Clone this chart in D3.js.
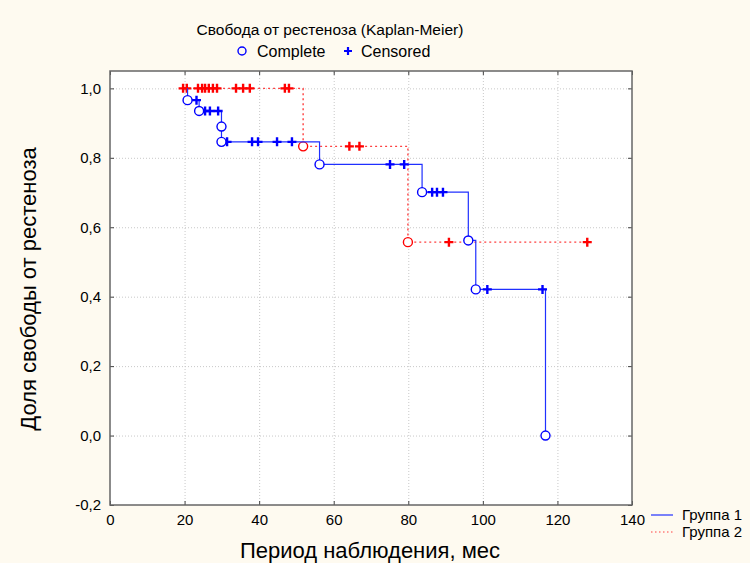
<!DOCTYPE html>
<html>
<head>
<meta charset="utf-8">
<script src="https://cdn.jsdelivr.net/npm/d3@7"></script>
<style>
  body { margin: 0; background: #fefaf0; }
  svg { display: block; font-family: 'Liberation Sans', Arial, sans-serif; }
  .grid line { stroke: #c8c8c8; stroke-dasharray: 1,2; }
  .grid path { display: none; }
  .ticks path { display: none; }
  .ticks line { stroke: #444; }
  .ticks text { font-size: 15px; fill: #000; font-family: 'Liberation Sans', Arial, sans-serif; }
</style>
</head>
<body>
<div id="chart"></div>
<script>
'use strict';

// Group 1 (blue) - events and censored times
var g1EventTimes = [20.8, 23.9, 29.9, 29.9, 56.2, 83.7, 96.1, 98.1, 116.8];
var g1EventSurv  = [0.966, 0.935, 0.890, 0.846, 0.781, 0.701, 0.562, 0.421, 0.0];
var g1Censored   = [23.2, 25.5, 26.8, 29.0, 31.4, 38.1, 39.7, 44.8, 48.8, 75.1, 78.9, 86.4, 87.7, 89.3, 101.2, 116.0];

// Group 2 (red)
var g2EventTimes = [51.8, 79.9];
var g2EventSurv  = [0.833, 0.557];
var g2Censored   = [19.6, 20.6, 23.6, 24.7, 25.5, 26.5, 27.6, 28.7, 33.8, 35.7, 37.5, 46.9, 48.0, 64.2, 66.9, 90.9, 128.0];

var xTicks = [0, 20, 40, 60, 80, 100, 120, 140];
var yTicks = [-0.2, 0, 0.2, 0.4, 0.6, 0.8, 1.0];

var graph = { width: 750, height: 563, left: 110, right: 632, top: 71, bottom: 505 };

var x = d3.scaleLinear().domain([0, 140]).range([graph.left, graph.right]);
var y = d3.scaleLinear().domain([-0.2, 1.05]).range([graph.bottom, graph.top]);

var svg = d3.select('#chart').append('svg')
  .attr('width', graph.width)
  .attr('height', graph.height);

// plot area
svg.append('rect')
  .attr('x', graph.left).attr('y', graph.top)
  .attr('width', graph.right - graph.left).attr('height', graph.bottom - graph.top)
  .attr('fill', '#fff');

// gridlines
svg.append('g').attr('class', 'grid')
  .attr('transform', 'translate(0,' + graph.bottom + ')')
  .call(d3.axisBottom(x).tickValues(xTicks.slice(1, -1)).tickSize(-(graph.bottom - graph.top)).tickFormat(''));
svg.append('g').attr('class', 'grid')
  .attr('transform', 'translate(' + graph.left + ',0)')
  .call(d3.axisLeft(y).tickValues(yTicks.slice(1)).tickSize(-(graph.right - graph.left)).tickFormat(''));

var fmt = function(d) { return d3.format('.1f')(d).replace('.', ',').replace('−', '-'); };

// axes with inward ticks
svg.append('g').attr('class', 'ticks')
  .attr('transform', 'translate(0,' + graph.bottom + ')')
  .call(d3.axisBottom(x).tickValues(xTicks).tickSizeInner(-4).tickSizeOuter(0).tickPadding(9).tickFormat(d3.format('d')));
svg.append('g').attr('class', 'ticks')
  .attr('transform', 'translate(0,' + graph.top + ')')
  .call(d3.axisTop(x).tickValues(xTicks).tickSizeInner(-4).tickSizeOuter(0).tickFormat(''));
svg.append('g').attr('class', 'ticks')
  .attr('transform', 'translate(' + graph.left + ',0)')
  .call(d3.axisLeft(y).tickValues(yTicks).tickSizeInner(-4).tickSizeOuter(0).tickPadding(9).tickFormat(fmt));
svg.append('g').attr('class', 'ticks')
  .attr('transform', 'translate(' + graph.right + ',0)')
  .call(d3.axisRight(y).tickValues(yTicks).tickSizeInner(-4).tickSizeOuter(0).tickFormat(''));

// frame
svg.append('rect')
  .attr('x', graph.left).attr('y', graph.top)
  .attr('width', graph.right - graph.left).attr('height', graph.bottom - graph.top)
  .attr('fill', 'none').attr('stroke', '#666').attr('stroke-width', 1.5);

function survAt(times, surv, t) {
  var s = 1;
  for (var i = 0; i < times.length; i++) {
    if (times[i] <= t) s = surv[i];
  }
  return s;
}

function stepPoints(times, surv, censored) {
  var start = Math.min(times[0], d3.min(censored));
  var pts = [[start, 1]];
  times.forEach(function(t, i) { pts.push([t, surv[i]]); });
  var end = d3.max(censored);
  if (end > times[times.length - 1]) pts.push([end, surv[surv.length - 1]]);
  return pts;
}

var stepLine = d3.line()
  .x(function(d) { return x(d[0]); })
  .y(function(d) { return y(d[1]); })
  .curve(d3.curveStepAfter);

var groups = [
  { times: g2EventTimes, surv: g2EventSurv, cens: g2Censored, color: '#ff0000', line: '#ff4040', dash: '2,3', width: 1.4 },
  { times: g1EventTimes, surv: g1EventSurv, cens: g1Censored, color: '#0000ff', line: '#2030ff', dash: null, width: 1.2 }
];

function plus(sel, size) {
  sel.append('path')
    .attr('d', 'M' + (-size) + ',0H' + size + 'M0,' + (-size) + 'V' + size);
}

groups.forEach(function(g) {
  var chartG = svg.append('g');
  chartG.append('path')
    .attr('d', stepLine(stepPoints(g.times, g.surv, g.cens)))
    .attr('fill', 'none')
    .attr('stroke', g.line)
    .attr('stroke-width', g.width)
    .attr('stroke-dasharray', g.dash);

  chartG.selectAll('.cens')
    .data(g.cens)
    .enter().append('g')
    .attr('class', 'cens')
    .attr('transform', function(d) {
      return 'translate(' + x(d) + ',' + y(survAt(g.times, g.surv, d)) + ')';
    })
    .attr('stroke', g.color)
    .attr('stroke-width', 2.4)
    .call(plus, 4.5);

  chartG.selectAll('.dot')
    .data(g.times)
    .enter().append('circle')
    .attr('class', 'dot')
    .attr('r', 4.5)
    .attr('cx', function(d) { return x(d); })
    .attr('cy', function(d, i) { return y(g.surv[i]); })
    .attr('fill', '#fff')
    .attr('stroke', g.color)
    .attr('stroke-width', 1.4);
});

// top legend
svg.append('text')
  .attr('x', 330).attr('y', 35)
  .attr('text-anchor', 'middle')
  .attr('font-size', 15.5)
  .text('Свобода от рестеноза (Kaplan-Meier)');
svg.append('circle')
  .attr('cx', 242).attr('cy', 51).attr('r', 4)
  .attr('fill', 'none').attr('stroke', '#0000ff').attr('stroke-width', 1.4);
svg.append('text').attr('x', 257).attr('y', 57).attr('font-size', 16).text('Complete');
svg.append('g')
  .attr('transform', 'translate(348,51)')
  .attr('stroke', '#0000ff').attr('stroke-width', 2.2)
  .call(plus, 4);
svg.append('text').attr('x', 361).attr('y', 57).attr('font-size', 16).text('Censored');

// bottom-right legend
var legendItems = ['Группа 1', 'Группа 2'];
legendItems.forEach(function(name, i) {
  var ly = 515 + i * 17;
  svg.append('line')
    .attr('x1', 651).attr('x2', 673).attr('y1', ly).attr('y2', ly)
    .attr('stroke', i === 0 ? '#2030ff' : '#ff4040')
    .attr('stroke-width', 1.2)
    .attr('stroke-dasharray', i === 0 ? null : '1.5,2.5');
  svg.append('text')
    .attr('x', 682).attr('y', ly + 5)
    .attr('font-size', 15)
    .text(name);
});

// axis titles
svg.append('text')
  .attr('x', 370).attr('y', 558)
  .attr('text-anchor', 'middle')
  .attr('font-size', 22)
  .text('Период наблюдения, мес');
svg.append('text')
  .attr('transform', 'translate(36,289) rotate(-90)')
  .attr('text-anchor', 'middle')
  .attr('font-size', 22)
  .text('Доля свободы от рестеноза');
</script>
</body>
</html>
